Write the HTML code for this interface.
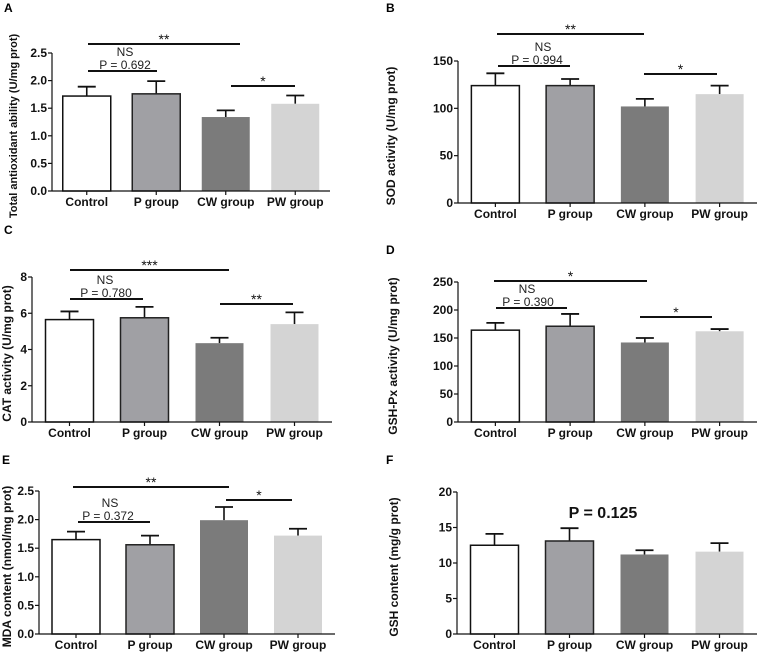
<!DOCTYPE html>
<html><head><meta charset="utf-8"><style>
html,body{margin:0;padding:0;background:#fff;}
svg{display:block;font-family:"Liberation Sans",Arial,sans-serif;}
</style></head><body>
<svg id="chart" width="760" height="656" viewBox="0 0 760 656"></svg>
<script>
const categories = ["Control","P group","CW group","PW group"];
const valuesA = [1.72,1.76,1.34,1.58];
const errorsA = [0.17,0.23,0.12,0.15];
const valuesB = [124,124,102,115];
const errorsB = [13,7,8,9];
const valuesC = [5.65,5.75,4.35,5.4];
const errorsC = [0.45,0.6,0.3,0.65];
const valuesD = [164,171,142,162];
const errorsD = [13,22,8,4];
const valuesE = [1.65,1.56,1.99,1.72];
const errorsE = [0.14,0.16,0.23,0.12];
const valuesF = [12.5,13.1,11.2,11.6];
const errorsF = [1.6,1.8,0.6,1.2];
const ticksA = ["0.0","0.5","1.0","1.5","2.0","2.5"];
const ticksB = ["0","50","100","150"];
const ticksC = ["0","2","4","6","8"];
const ticksD = ["0","50","100","150","200","250"];
const ticksE = ["0.0","0.5","1.0","1.5","2.0","2.5"];
const ticksF = ["0","5","10","15","20"];

const fills=["#ffffff","#a0a0a4","#7b7b7b","#d4d4d4"];
const strokes=["#111","#222","none","none"];
const NS="http://www.w3.org/2000/svg";
const svg=document.getElementById('chart');
function mk(tag,attrs,parent,text){const e=document.createElementNS(NS,tag);for(const k in attrs)e.setAttribute(k,attrs[k]);if(text!==undefined)e.textContent=text;(parent||svg).appendChild(e);return e;}

const panels=[
 {id:"a",letter:"A",lx:4,ly:12,ax:52,ae:330,yT:53,yB:191,ticks:ticksA,vals:valuesA,errs:errorsA,title:"Total antioxidant ability (U/mg prot)",tx:17,tfs:11,labY:206,
  ann:[[88,240,44,"**",36],[88,157,71,null],[231,295,86,"*",78]],ns:[125,"NS"],p:[125,"P = 0.692"]},
 {id:"b",letter:"B",lx:386,ly:12,ax:458,ae:757,yT:61,yB:203,ticks:ticksB,vals:valuesB,errs:errorsB,title:"SOD activity (U/mg prot)",tx:395,tfs:12,labY:218,
  ann:[[497,644,34,"**",26],[498,570,66,null],[644,717,74,"*",66]],ns:[543,"NS"],p:[537,"P = 0.994"]},
 {id:"c",letter:"C",lx:4,ly:234,ax:32,ae:332,yT:277,yB:422,ticks:ticksC,vals:valuesC,errs:errorsC,title:"CAT activity (U/mg prot)",tx:11,tfs:12,labY:437,
  ann:[[70,229,270,"***",262],[70,143,299,null],[220,293,304,"**",296]],ns:[105,"NS"],p:[106,"P = 0.780"]},
 {id:"d",letter:"D",lx:386,ly:254,ax:458,ae:757,yT:282,yB:422,ticks:ticksD,vals:valuesD,errs:errorsD,title:"GSH-Px activity (U/mg prot)",tx:397,tfs:12,labY:437,
  ann:[[494,647,281,"*",273],[496,567,308,null],[640,712,317,"*",309]],ns:[527,"NS"],p:[528,"P = 0.390"]},
 {id:"e",letter:"E",lx:2,ly:464,ax:39,ae:335,yT:491,yB:634,ticks:ticksE,vals:valuesE,errs:errorsE,title:"MDA content (nmol/mg prot)",tx:11,tfs:12,labY:649,
  ann:[[73,229,487,"**",479],[78,150,522,null],[226,292,500,"*",492]],ns:[110,"NS"],p:[108,"P = 0.372"]},
 {id:"f",letter:"F",lx:386,ly:464,ax:457,ae:757,yT:492,yB:634,ticks:ticksF,vals:valuesF,errs:errorsF,title:"GSH content (mg/g prot)",tx:398,tfs:12,labY:649,
  ann:[],big:[603,518,"P = 0.125"]}
];

panels.forEach(P=>{
 const g=mk('g',{});
 
 
 const max=parseFloat(P.ticks[P.ticks.length-1]);
 const y=v=>P.yB-(v/max)*(P.yB-P.yT);
 const band=(P.ae-P.ax)/4;
 const cx=i=>P.ax+band*(i+0.5);
 const bw=48;
 const L=mk('text',{x:P.lx,y:P.ly,'font-size':12,'font-weight':'bold'},g,P.letter);
 
 
 P.vals.forEach((v,i)=>{
  const top=y(v+P.errs[i]);
  const ln=mk('line',{x1:cx(i),x2:cx(i),y1:y(v),y2:top,stroke:'#111','stroke-width':1.6},g);
  
  
  const cap=mk('line',{x1:cx(i)-9,x2:cx(i)+9,y1:top,y2:top,stroke:'#111','stroke-width':1.8},g);
  
  
  const r=mk('rect',{x:cx(i)-bw/2,y:y(v),width:bw,height:P.yB-y(v),fill:fills[i],stroke:strokes[i],'stroke-width':1.5},g);
  
  
  const tk=mk('line',{x1:cx(i),x2:cx(i),y1:P.yB,y2:P.yB+4,stroke:'#111','stroke-width':1.2},g);
  
  
  const t=mk('text',{x:cx(i),y:P.labY,'font-size':12,'font-weight':'bold','text-anchor':'middle',fill:'#111'},g,categories[i]);
  
  
 });
 const ya=mk('line',{x1:P.ax,x2:P.ax,y1:P.yT,y2:P.yB,stroke:'#111','stroke-width':1.2},g);
 
 
 const xa=mk('line',{x1:P.ax,x2:P.ae,y1:P.yB,y2:P.yB,stroke:'#111','stroke-width':1.2},g);
 
 
 P.ticks.forEach(tl=>{
  const yy=y(parseFloat(tl));
  const tk=mk('line',{x1:P.ax-4,x2:P.ax,y1:yy,y2:yy,stroke:'#111','stroke-width':1.2},g);
  
  
  const t=mk('text',{x:P.ax-5,y:yy+4,'font-size':12,'font-weight':'bold','text-anchor':'end',fill:'#111'},g,tl);
  
  
 });
 const my=(P.yT+P.yB)/2+4;
 const yt=mk('text',{x:P.tx,y:my,'font-size':P.tfs,'font-weight':'bold','text-anchor':'middle',transform:`rotate(-90 ${P.tx} ${my})`,fill:'#111'},g,P.title);
 
 
 P.ann.forEach(a=>{
  const l=mk('line',{x1:a[0],x2:a[1],y1:a[2],y2:a[2],stroke:'#111','stroke-width':2},g);
  
  
  if(a[3]){const s=mk('text',{x:(a[0]+a[1])/2,y:a[4]+8,'font-size':14,'text-anchor':'middle',fill:'#111'},g,a[3]);
   
   }
 });
 if(P.ns){
  const ly=P.ann[1][2];
  const t=mk('text',{x:P.ns[0],y:ly-15,'font-size':12,'text-anchor':'middle',fill:'#222'},g,P.ns[1]);
  
  
  const p=mk('text',{x:P.p[0],y:ly-2,'font-size':12,'text-anchor':'middle',fill:'#222'},g,P.p[1]);
  
  }
 if(P.big){const t=mk('text',{x:P.big[0],y:P.big[1],'font-size':16,'font-weight':'bold','text-anchor':'middle',fill:'#111'},g,P.big[2]);
  
  }
});
</script>
</body></html>
